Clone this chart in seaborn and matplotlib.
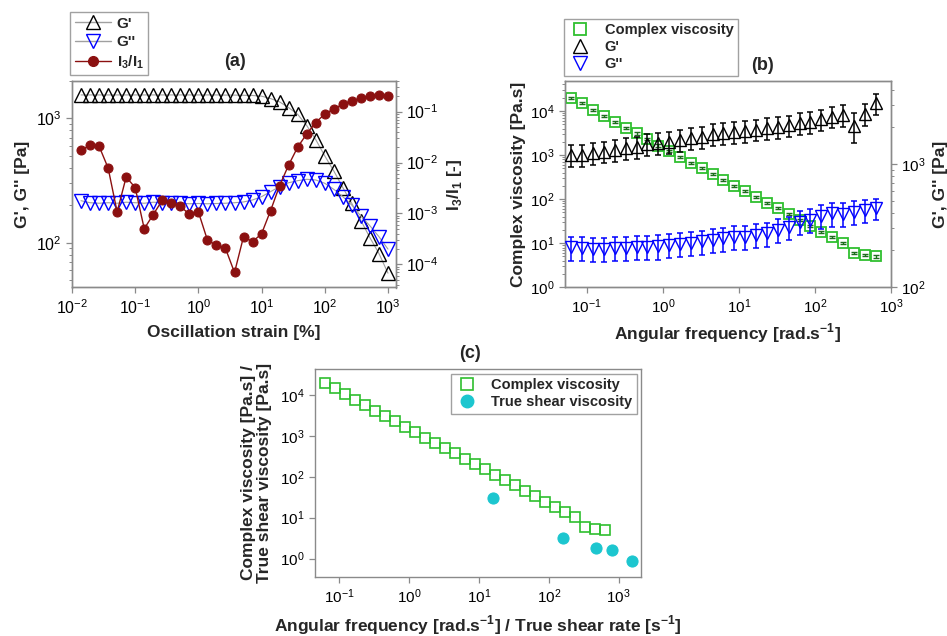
import numpy as np
import pandas as pd
import matplotlib
matplotlib.use("Agg")
import matplotlib.pyplot as plt
from matplotlib.lines import Line2D
from matplotlib.ticker import LogLocator, NullFormatter
import seaborn as sns

# ---------------- data ----------------
# (a) amplitude sweep
strain = [0.0139, 0.0193, 0.0268, 0.0373, 0.0518, 0.0720, 0.100, 0.139, 0.193, 0.268,
          0.373, 0.518, 0.720, 1.00, 1.39, 1.93, 2.68, 3.73, 5.18, 7.20,
          10.0, 13.9, 19.3, 26.8, 37.3, 51.8, 72.0, 100, 139, 193,
          268, 373, 518, 720, 1000]
gp_a = [1545, 1545, 1545, 1545, 1545, 1545, 1545, 1545, 1545, 1545,
        1545, 1545, 1545, 1545, 1545, 1545, 1540, 1540, 1535, 1530,
        1510, 1445, 1357, 1222, 1078, 877, 675, 500, 378, 278,
        207, 151, 110, 82, 57]
gpp_a = [218, 210, 208, 210, 208, 212, 210, 208, 212, 210,
         209, 208, 206, 207, 206, 207, 208, 210, 213, 221,
         235, 258, 283, 304, 316, 324, 320, 301, 269, 235,
         201, 164, 137, 112, 89]
i3i1 = [0.0173, 0.0220, 0.0210, 0.0078, 0.00107, 0.0052, 0.00321, 0.00050, 0.00095, 0.00181,
        0.00161, 0.00138, 0.00096, 0.00107, 0.000299, 0.000236, 0.000206, 0.000069, 0.000348, 0.000278,
        0.000399, 0.00114, 0.00352, 0.00893, 0.0201, 0.0366, 0.061, 0.090, 0.113, 0.140,
        0.164, 0.183, 0.200, 0.210, 0.203]

# (b) frequency sweep
freq = [0.0628, 0.0873, 0.121, 0.169, 0.234, 0.325, 0.452, 0.628, 0.873, 1.21,
        1.69, 2.34, 3.25, 4.52, 6.28, 8.73, 12.1, 16.9, 23.4, 32.5,
        45.2, 62.8, 87.3, 121, 169, 234, 325, 452, 628]
eta = [20000, 15000, 10600, 7750, 5700, 4150, 3100, 2300, 1650, 1220,
       900, 675, 505, 372, 273, 202, 153, 113, 83, 62,
       45.5, 33.7, 24.6, 18.3, 13.8, 10.3, 5.95, 5.4, 5.0]
eta_err = [1200, 900, 650, 470, 350, 250, 190, 140, 100, 75,
           55, 40, 30, 22, 16, 12, 9, 7, 5, 3.7,
           2.7, 2.0, 1.5, 1.1, 0.8, 0.6, 0.35, 0.35, 0.4]
gp_b = [1183, 1183, 1222, 1259, 1300, 1340, 1383, 1452, 1489, 1517,
        1566, 1616, 1663, 1750, 1774, 1828, 1860, 1900, 1950, 2006,
        2050, 2140, 2200, 2300, 2420, 2500, 2030, 2550, 3100]
gp_b_err = [240, 240, 245, 250, 260, 270, 280, 290, 300, 305,
            315, 325, 335, 350, 355, 365, 375, 380, 390, 400,
            410, 430, 440, 460, 480, 500, 560, 520, 620]
gpp_b = [211, 208, 206, 206, 208, 210, 212, 214, 216, 220,
         225, 230, 236, 242, 250, 257, 258, 265, 274, 292,
         307, 341, 351, 379, 398, 393, 410, 424, 437]
gpp_b_err = [47, 46, 45, 45, 46, 46, 47, 47, 48, 48,
             50, 51, 52, 53, 55, 57, 57, 58, 60, 64,
             67, 75, 77, 83, 87, 86, 88, 90, 85]

# (c) true shear viscosity
rate_true = [15.7, 157, 466, 789, 1550]
eta_true = [30.7, 3.13, 1.80, 1.63, 0.88]

# ---------------- style ----------------
sns.set_theme(style="white")
plt.rcParams["font.family"] = ["Liberation Sans", "DejaVu Sans"]
plt.rcParams["axes.unicode_minus"] = True

W, H = 947, 636
fig = plt.figure(figsize=(W / 100, H / 100), dpi=100)
fig.patch.set_facecolor("white")


def px_axes(l, r, t, b):
    return fig.add_axes([l / W, 1 - b / H, (r - l) / W, (b - t) / H])


SPINE = "#8a8a8a"
GREEN = "#2fbf2f"
GREEN_D = "#1d6e1d"
DARKRED = "#8b1010"
CYAN = "#1cc6cf"
LAB_FS = 12.5


def style(ax, fs):
    for s in ax.spines.values():
        s.set_color(SPINE)
        s.set_linewidth(1.0)
    ax.tick_params(axis="both", which="both", direction="out", colors=SPINE,
                   labelcolor="black", labelsize=fs)
    ax.tick_params(which="major", length=4.5, width=0.9, pad=3)
    ax.tick_params(which="minor", length=2.5, width=0.7)


def log_minor(axis):
    axis.set_major_locator(LogLocator(base=10, numticks=30))
    axis.set_minor_locator(LogLocator(base=10, subs=np.arange(2, 10), numticks=300))
    axis.set_minor_formatter(NullFormatter())


df_a = pd.DataFrame({"strain": strain, "gp": gp_a, "gpp": gpp_a, "i3i1": i3i1})
df_b = pd.DataFrame({"freq": freq, "eta": eta, "gp": gp_b, "gpp": gpp_b})
df_c = pd.DataFrame({"rate": rate_true, "eta": eta_true})

# ---------------- panel (a) ----------------
axa = px_axes(72, 396, 81, 287.5)
axa.set_xscale("log")
axa.set_yscale("log")
sns.lineplot(data=df_a, x="strain", y="gp", ax=axa, color="#a0a0a0", lw=0.8,
             marker="^", markersize=10, markerfacecolor="none",
             markeredgecolor="black", markeredgewidth=1.0, estimator=None, sort=False)
sns.lineplot(data=df_a, x="strain", y="gpp", ax=axa, color="#a0a0a0", lw=0.8,
             marker="v", markersize=10, markerfacecolor="none",
             markeredgecolor="blue", markeredgewidth=1.0, estimator=None, sort=False)
axa.set_xlim(0.01, 1340)
axa.set_ylim(43.7, 2000)
axa2 = axa.twinx()
axa2.set_yscale("log")
sns.lineplot(data=df_a, x="strain", y="i3i1", ax=axa2, color=DARKRED, lw=1.0,
             marker="o", markersize=6.5, markerfacecolor=DARKRED,
             markeredgecolor=DARKRED, estimator=None, sort=False)
axa2.set_ylim(3.5e-5, 0.40)
for ax in (axa, axa2):
    style(ax, 11.5)
    log_minor(ax.yaxis)
log_minor(axa.xaxis)
axa.tick_params(top=False, right=False, left=True, bottom=True)
axa2.tick_params(right=True, left=False)
axa.set_xlabel("Oscillation strain [%]", fontsize=LAB_FS, fontweight="bold")
axa.xaxis.set_label_coords(0.5, -0.218)
axa.xaxis.label.set_va("center")
axa.set_ylabel("G', G'' [Pa]", fontsize=LAB_FS, fontweight="bold")
axa.yaxis.set_label_coords(-0.154, 0.5)
axa.yaxis.label.set_va("center")
axa2.set_ylabel(r"I$_{\mathdefault{3}}$/I$_{\mathdefault{1}}$ [-]", fontsize=LAB_FS, fontweight="bold")
axa2.yaxis.set_label_coords(1.182, 0.5)
axa2.yaxis.label.set_va("center")

hand_a = [
    Line2D([], [], color="#a0a0a0", lw=1, marker="^", ms=10, mfc="none", mec="black", label="G'"),
    Line2D([], [], color="#a0a0a0", lw=1, marker="v", ms=10, mfc="none", mec="blue", label="G''"),
    Line2D([], [], color=DARKRED, lw=1, marker="o", ms=7, mfc=DARKRED, mec=DARKRED,
           label=r"I$_{\mathdefault{3}}$/I$_{\mathdefault{1}}$"),
]
leg_a = fig.legend(handles=hand_a, loc="upper left", bbox_to_anchor=(70 / W, 1 - 12 / H),
                   bbox_transform=fig.transFigure, borderaxespad=0, frameon=True, fancybox=False,
                   edgecolor=SPINE, prop={"weight": "bold", "size": 11}, labelspacing=0.28,
                   handlelength=2.4, handletextpad=0.35, borderpad=0.3)
leg_a.get_frame().set_linewidth(1.0)

# ---------------- panel (b) ----------------
axb = px_axes(565, 891, 81, 287.3)
axb.set_xscale("log")
axb.set_yscale("log")
axb.errorbar(freq, eta, yerr=eta_err, fmt="none", ecolor=GREEN_D, elinewidth=1.0,
             capsize=2, capthick=1.0, zorder=2)
sns.lineplot(data=df_b, x="freq", y="eta", ax=axb, linestyle="", marker="s", markersize=7,
             markerfacecolor="none", markeredgecolor=GREEN, markeredgewidth=1.3,
             estimator=None, sort=False, zorder=3)
axb.set_xlim(0.0518, 1000)
axb.set_ylim(1, 48000)
axb2 = axb.twinx()
axb2.set_yscale("log")
axb2.errorbar(freq, gp_b, yerr=gp_b_err, fmt="none", ecolor="black", elinewidth=1.1,
              capsize=2, capthick=1.1, zorder=2)
axb2.errorbar(freq, gpp_b, yerr=gpp_b_err, fmt="none", ecolor="blue", elinewidth=1.1,
              capsize=2, capthick=1.1, zorder=2)
sns.lineplot(data=df_b, x="freq", y="gp", ax=axb2, linestyle="", marker="^", markersize=9,
             markerfacecolor="none", markeredgecolor="black", markeredgewidth=1.0,
             estimator=None, sort=False, zorder=3)
sns.lineplot(data=df_b, x="freq", y="gpp", ax=axb2, linestyle="", marker="v", markersize=9,
             markerfacecolor="none", markeredgecolor="blue", markeredgewidth=1.0,
             estimator=None, sort=False, zorder=3)
axb2.set_ylim(100, 4700)
for ax in (axb, axb2):
    style(ax, 11)
    log_minor(ax.yaxis)
log_minor(axb.xaxis)
axb.tick_params(top=False, right=False, left=True, bottom=True)
axb2.tick_params(right=True, left=False)
axb.set_xlabel(r"Angular frequency [rad.s$^{\mathdefault{-1}}$]", fontsize=LAB_FS, fontweight="bold")
axb.xaxis.set_label_coords(0.5, -0.2215)
axb.xaxis.label.set_va("center")
axb.set_ylabel("Complex viscosity [Pa.s]", fontsize=LAB_FS, fontweight="bold")
axb.yaxis.set_label_coords(-0.144, 0.5)
axb.yaxis.label.set_va("center")
axb2.set_ylabel("G', G'' [Pa]", fontsize=LAB_FS, fontweight="bold")
axb2.yaxis.set_label_coords(1.153, 0.5)
axb2.yaxis.label.set_va("center")

hand_b = [
    Line2D([], [], ls="", marker="s", ms=8, mfc="none", mec=GREEN, mew=1.3, label="Complex viscosity"),
    Line2D([], [], ls="", marker="^", ms=10, mfc="none", mec="black", label="G'"),
    Line2D([], [], ls="", marker="v", ms=10, mfc="none", mec="blue", label="G''"),
]
leg_b = fig.legend(handles=hand_b, loc="upper left", bbox_to_anchor=(564 / W, 1 - 19 / H),
                   bbox_transform=fig.transFigure, borderaxespad=0, frameon=True, fancybox=False,
                   edgecolor=SPINE, prop={"weight": "bold", "size": 10.5}, labelspacing=0.2,
                   handlelength=1.6, handletextpad=0.9, borderpad=0.3)
leg_b.get_frame().set_linewidth(1.0)

# ---------------- panel (c) ----------------
axc = px_axes(315, 641, 369.3, 576.7)
axc.set_xscale("log")
axc.set_yscale("log")
sns.lineplot(data=df_b, x="freq", y="eta", ax=axc, linestyle="", marker="s", markersize=7.5,
             markerfacecolor="none", markeredgecolor=GREEN, markeredgewidth=1.2,
             estimator=None, sort=False)
sns.lineplot(data=df_c, x="rate", y="eta", ax=axc, linestyle="", marker="o", markersize=8,
             markerfacecolor=CYAN, markeredgecolor=CYAN, estimator=None, sort=False)
axc.set_xlim(0.0449, 2085)
axc.set_ylim(0.36, 42600)
style(axc, 11)
log_minor(axc.xaxis)
log_minor(axc.yaxis)
axc.tick_params(top=False, right=False, left=True, bottom=True)
axc.set_xlabel(r"Angular frequency [rad.s$^{\mathdefault{-1}}$] / True shear rate [s$^{\mathdefault{-1}}$]",
               fontsize=LAB_FS, fontweight="bold")
axc.xaxis.set_label_coords(0.5, -0.233)
axc.xaxis.label.set_va("center")
axc.set_ylabel("Complex viscosity [Pa.s] /\nTrue shear viscosity [Pa.s]", fontsize=LAB_FS,
               fontweight="bold", linespacing=1.1)
axc.yaxis.set_label_coords(-0.179, 0.5)
axc.yaxis.label.set_va("center")

hand_c = [
    Line2D([], [], ls="", marker="s", ms=8, mfc="none", mec=GREEN, mew=1.2, label="Complex viscosity"),
    Line2D([], [], ls="", marker="o", ms=9, mfc=CYAN, mec=CYAN, label="True shear viscosity"),
]
leg_c = axc.legend(handles=hand_c, loc="upper right", bbox_to_anchor=(637 / W, 1 - 374 / H),
                   bbox_transform=fig.transFigure, borderaxespad=0, frameon=True, fancybox=False,
                   edgecolor=SPINE, prop={"weight": "bold", "size": 10.5}, labelspacing=0.2,
                   handlelength=1.6, handletextpad=0.9, borderpad=0.3)
leg_c.get_frame().set_linewidth(1.0)

# remove any auto legends created by seaborn
for ax in (axa, axa2, axb, axb2):
    lg = ax.get_legend()
    if lg is not None:
        lg.remove()

# titles
for txt, x, y in (("(a)", 235, 62), ("(b)", 763, 65), ("(c)", 470, 353)):
    fig.text(x / W, 1 - y / H, txt, ha="center", va="center", fontsize=13, fontweight="bold")

fig.savefig("out.png", dpi=100)
